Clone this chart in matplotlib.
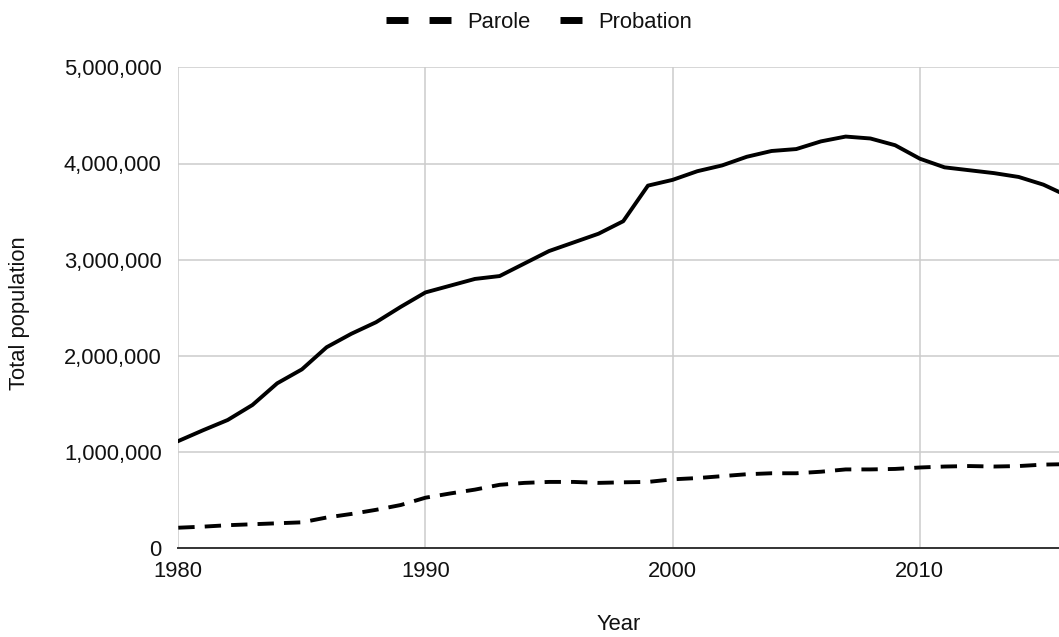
import matplotlib
matplotlib.use("Agg")
import matplotlib.pyplot as plt
from matplotlib.lines import Line2D
from matplotlib.ticker import FuncFormatter

plt.rcParams['font.family'] = ['Liberation Sans', 'DejaVu Sans']

years = list(range(1980, 2017))
probation = [1115000, 1227000, 1334000, 1490000, 1715000, 1860000, 2090000, 2230000,
             2350000, 2510000, 2660000, 2730000, 2800000, 2830000, 2960000, 3090000,
             3180000, 3270000, 3400000, 3770000, 3830000, 3920000, 3980000, 4070000,
             4130000, 4150000, 4230000, 4280000, 4260000, 4190000, 4050000, 3960000,
             3930000, 3900000, 3860000, 3780000, 3660000]
parole = [214000, 225000, 240000, 250000, 260000, 270000, 320000, 357000,
          400000, 450000, 526000, 570000, 610000, 660000, 680000, 690000,
          690000, 680000, 686000, 690000, 717000, 730000, 750000, 770000,
          780000, 780000, 796000, 820000, 820000, 825000, 840000, 850000,
          855000, 850000, 855000, 870000, 875000]
x_ticks = [1980, 1990, 2000, 2010]
y_ticks = [0, 1000000, 2000000, 3000000, 4000000, 5000000]

FS = 15.8
W, H = 1059, 637
fig = plt.figure(figsize=(W / 100, H / 100), dpi=100)
left, right, top, bottom = 178.3, 1059, 67.3, 548.3
ax = fig.add_axes([left / W, 1 - bottom / H, (right - left) / W, (bottom - top) / H])

ax.plot(years, parole, color='black', lw=2.8, linestyle=(0, (4.2, 2.6)),
        dash_capstyle='butt', solid_joinstyle='round')
ax.plot(years, probation, color='black', lw=2.8, solid_joinstyle='round')

ax.set_xlim(1980, 2015.63)
ax.set_ylim(0, 5000000)
ax.set_xticks(x_ticks)
ax.set_yticks(y_ticks)
ax.yaxis.set_major_formatter(FuncFormatter(lambda v, p: f"{int(v):,}"))
ax.tick_params(length=0, labelsize=FS, colors='#111111')
ax.tick_params(axis='x', pad=9)
ax.tick_params(axis='y', pad=12)
ax.grid(True, color='#cccccc', lw=1.1)
ax.set_axisbelow(True)
for s in ['top', 'right', 'left']:
    ax.spines[s].set_visible(False)
ax.spines['bottom'].set_color('#333333')
ax.spines['bottom'].set_linewidth(1.4)
ax.spines['bottom'].set_zorder(3)

ax.set_ylabel('Total population', fontsize=FS, color='#111111', va='center')
ax.yaxis.set_label_coords((20 - left) / (right - left), (bottom - 313) / (bottom - top))
ax.set_xlabel('Year', fontsize=FS, color='#111111', va='center')
ax.xaxis.set_label_coords(0.5, (bottom - 625) / (bottom - top))

h_parole = Line2D([], [], color='black', lw=5, linestyle=(0, (3.17, 3.03)), dash_capstyle='butt')
h_prob = Line2D([], [], color='black', lw=5, solid_capstyle='butt')
fig.legend(handles=[h_parole], labels=['Parole'], loc='center',
           bbox_to_anchor=(458.5 / W, 1 - 22 / H), frameon=False,
           fontsize=FS, handlelength=2.96, handletextpad=0.73,
           borderpad=0, borderaxespad=0, labelcolor='#111111')
fig.legend(handles=[h_prob], labels=['Probation'], loc='center',
           bbox_to_anchor=(626 / W, 1 - 22 / H), frameon=False,
           fontsize=FS, handlelength=1.0, handletextpad=0.73,
           borderpad=0, borderaxespad=0, labelcolor='#111111')

fig.savefig('out.png', dpi=100)
